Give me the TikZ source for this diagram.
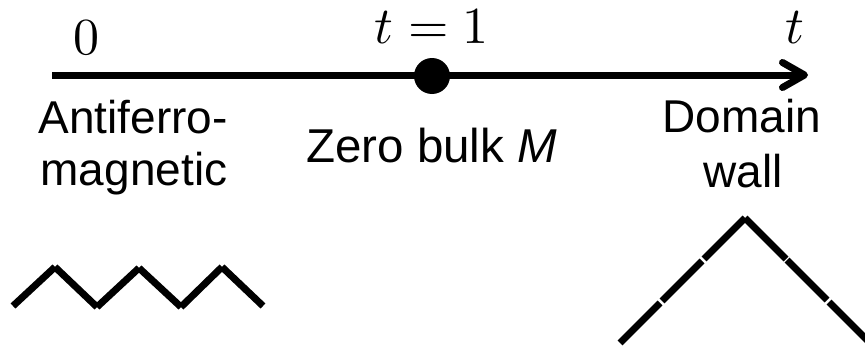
\documentclass[tikz,border=0pt]{standalone}
\usepackage{fontspec}
\setmainfont{Liberation Sans}
\usetikzlibrary{arrows.meta}
\begin{document}
\begin{tikzpicture}[x=1pt,y=-1pt,
  lbl/.style={anchor=base,inner sep=0pt,font=\fontsize{46}{54}\selectfont},
  mlbl/.style={anchor=base,inner sep=0pt,font=\fontsize{10}{12}\selectfont,scale=5.2},
  spin/.style={line width=7pt,line cap=butt},
  axisline/.style={line width=7pt,-{Straight Barb[length=22pt,width=25pt,round]}}]
\useasboundingbox (0,0) rectangle (865,348);
% axis
\coordinate (a0) at (52,75);
\coordinate (a1) at (808,75);
\draw[axisline] (a0) -- (a1);
\node[circle,fill=black,minimum size=36pt,inner sep=0pt] (dot) at (432,76) {};
% math labels
\node[mlbl] (l0) at (86,54) {$0$};
\node[mlbl] (l1) at (432,43) {$t=1$};
\node[mlbl] (lt) at (795,43) {$t$};
% text labels
\node[lbl] (af1) at (133,133) {Antiferro-};
\node[lbl] (af2) at (134,185) {magnetic};
\node[lbl,anchor=base west,font=\fontsize{47.5}{56}\selectfont] (zb) at (306,162) {Zero bulk \textit{M}};
\node[lbl] (dw1) at (742,132) {Domain};
\node[lbl] (dw2) at (743,187) {wall};
% antiferromagnetic zigzag
\coordinate (z0) at (13,306);
\coordinate (z1) at (55,267);
\coordinate (z2) at (97,307);
\coordinate (z3) at (139,268);
\coordinate (z4) at (181,307);
\coordinate (z5) at (222,267);
\coordinate (z6) at (263,306);
\draw[spin] (z0) -- (z1);
\draw[spin] (z1) -- (z2);
\draw[spin] (z2) -- (z3);
\draw[spin] (z3) -- (z4);
\draw[spin] (z4) -- (z5);
\draw[spin] (z5) -- (z6);
% domain wall
\coordinate (p) at (745,218);
\coordinate (la) at (704,259);
\coordinate (lb) at (702,261);
\coordinate (lc) at (662,301);
\coordinate (ld) at (660,303);
\coordinate (le) at (620,343);
\coordinate (ra) at (786,259);
\coordinate (rb) at (787,260);
\coordinate (rc) at (827,300);
\coordinate (rd) at (829,302);
\coordinate (re) at (872,345);
\draw[spin] (p) -- (la);
\draw[spin] (lb) -- (lc);
\draw[spin] (ld) -- (le);
\draw[spin] (p) -- (ra);
\draw[spin] (rb) -- (rc);
\draw[spin] (rd) -- (re);
\end{tikzpicture}
\end{document}
